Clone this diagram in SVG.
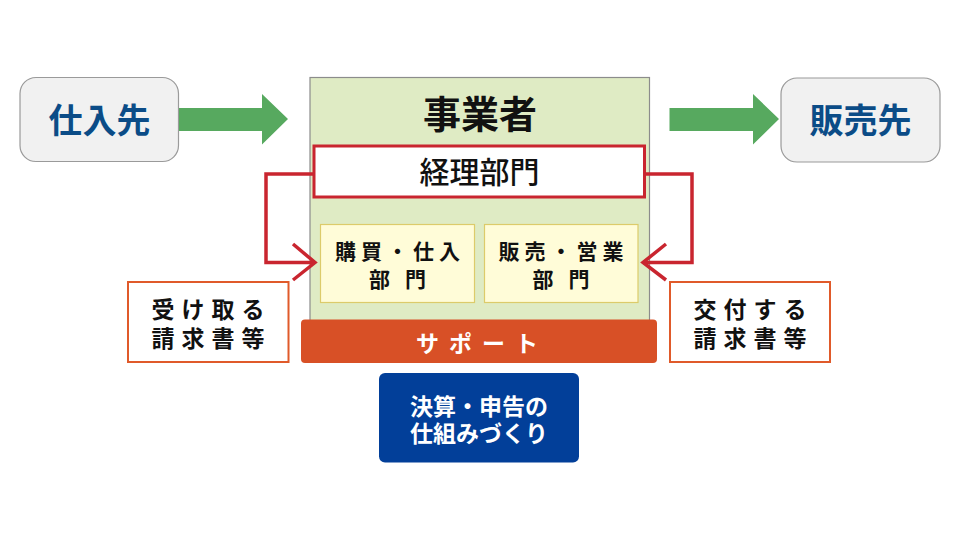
<svg xmlns="http://www.w3.org/2000/svg" width="960" height="540" viewBox="0 0 960 540">
<style>
text{font-family:"Noto Sans CJK JP","Noto Sans",sans-serif;text-anchor:middle}
.party{fill:#f1f1f1;stroke:#9a9a9a;stroke-width:1.2}
.partyt{fill:#0b4c87;font-size:34px;font-weight:700}
.dept{fill:#fffcd8;stroke:#dccb6a;stroke-width:1.2}
.deptt{fill:#111;font-size:21px;font-weight:700;letter-spacing:5px}
.doc{fill:#fff;stroke:#e05a2a;stroke-width:2}
.doct{fill:#111;font-size:23px;font-weight:700;letter-spacing:7px}
.red{fill:none;stroke:#c9252f;stroke-width:3.5}
.green{fill:#57a95f}
</style>
<rect width="960" height="540" fill="#fff"/>
<g id="business">
<rect x="310" y="77.5" width="339.5" height="250" fill="#dfebc4" stroke="#8c8c8c" stroke-width="1.2"/>
<text x="480" y="128" font-size="38" font-weight="700" fill="#111">事業者</text>
</g>
<g id="supplier">
<rect class="party" x="20" y="77.5" width="158.5" height="84" rx="16"/>
<text class="partyt" x="99.5" y="133">仕入先</text>
</g>
<g id="customer">
<rect class="party" x="781" y="78" width="159" height="84" rx="16"/>
<text class="partyt" x="860.5" y="133">販売先</text>
</g>
<g id="accounting">
<rect x="314" y="146" width="330.5" height="51" fill="#fff" stroke="#c9252f" stroke-width="3"/>
<text x="479.5" y="183" font-size="30" font-weight="500" fill="#111">経理部門</text>
</g>
<g id="purchasing">
<rect class="dept" x="320.5" y="224.5" width="154" height="78"/>
<text class="deptt" x="400" y="259">購買・仕入</text>
<text class="deptt" x="400" y="287">部 門</text>
</g>
<g id="sales">
<rect class="dept" x="484.5" y="224.5" width="153.5" height="78"/>
<text class="deptt" x="563.5" y="259">販売・営業</text>
<text class="deptt" x="563.5" y="287">部 門</text>
</g>
<g id="received">
<rect class="doc" x="128" y="282" width="160.5" height="80"/>
<text class="doct" x="211.5" y="318">受け取る</text>
<text class="doct" x="211.5" y="346.5">請求書等</text>
</g>
<g id="issued">
<rect class="doc" x="670" y="282" width="160" height="80"/>
<text class="doct" x="753.5" y="318">交付する</text>
<text class="doct" x="753.5" y="346.5">請求書等</text>
</g>
<g id="support">
<rect x="301" y="319.5" width="356" height="43.5" rx="4" fill="#d85026"/>
<text x="482" y="352" font-size="23" font-weight="700" fill="#fff" letter-spacing="10">サポート</text>
</g>
<g id="settlement">
<rect x="379" y="373" width="200" height="89.5" rx="6" fill="#023f99"/>
<text x="479" y="414.5" font-size="23" font-weight="700" fill="#fff">決算・申告の</text>
<text x="479" y="442" font-size="23" font-weight="700" fill="#fff">仕組みづくり</text>
</g>
<g id="connectors">
<polygon class="green" points="179,108 262,108 262,94 288,119 262,144.5 262,131 179,131"/>
<polygon class="green" points="669.5,108 753,108 753,94 779,119 753,144.5 753,131 669.5,131"/>
<polyline class="red" points="313,174 266,174 266,262.5 315,262.5"/>
<polyline class="red" points="293,244 315,262.5 293,280"/>
<polyline class="red" points="646,174 692,174 692,262.5 643,262.5"/>
<polyline class="red" points="666,244 643,262.5 666,280"/>
</g>
</svg>
